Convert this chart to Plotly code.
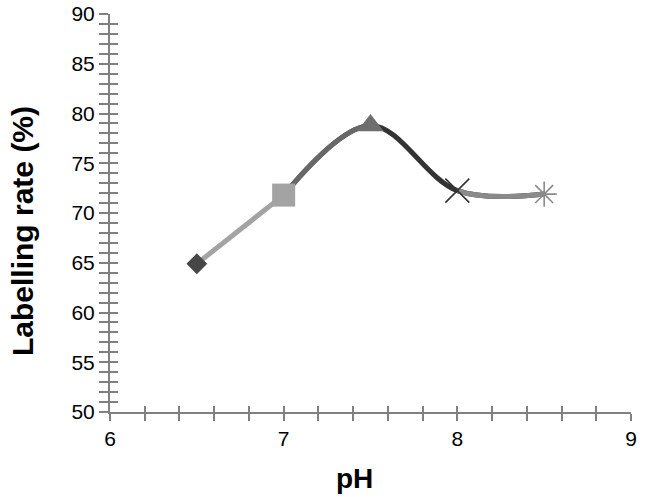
import plotly.graph_objects as go

# ---- data ----
ph = [6.5, 7.0, 7.5, 8.0, 8.5]
rate = [64.9, 71.8, 78.8, 72.25, 71.9]

marker_symbols = ["diamond", "square", "triangle-up", "x-thin", "asterisk"]
marker_colors = ["#474747", "#a3a3a3", "#6e6e6e", "#333333", "#8a8a8a"]
marker_sizes = [16, 23, 23, 24, 21]

x_tickvals = [6.0, 6.2, 6.4, 6.6, 6.8, 7.0, 7.2, 7.4, 7.6, 7.8,
              8.0, 8.2, 8.4, 8.6, 8.8, 9.0]
x_ticktext = ["6", "", "", "", "", "7", "", "", "", "",
              "8", "", "", "", "", "9"]
y_tickvals = list(range(50, 91))
y_ticktext = [str(v) if v % 5 == 0 else "" for v in y_tickvals]

x_range = [6, 9]
y_range = [50, 90]

x_title = "pH"
y_title = "Labelling rate (%)"

FONT = "Liberation Sans, Arial, sans-serif"
AX = "#808080"

fig = go.Figure()

# dark smoothed curve through pH 7 .. 8.5 (base layer)
fig.add_trace(go.Scatter(
    x=ph[1:], y=rate[1:], mode="lines",
    line=dict(color="#333333", width=5, shape="spline"),
    xaxis="x", yaxis="y", showlegend=False, hoverinfo="skip"))

# light straight segment pH 6.5 -> 7
fig.add_trace(go.Scatter(
    x=ph[0:2], y=rate[0:2], mode="lines",
    line=dict(color="#a3a3a3", width=5),
    xaxis="x", yaxis="y", showlegend=False, hoverinfo="skip"))

# medium grey part of the curve (pH 7 -> 7.5), clipped by its own axis domain
fig.add_trace(go.Scatter(
    x=ph[1:4], y=rate[1:4], mode="lines",
    line=dict(color="#686868", width=5, shape="spline"),
    xaxis="x2", yaxis="y", showlegend=False, hoverinfo="skip"))

# grey part of the curve (pH 8 -> 8.5)
fig.add_trace(go.Scatter(
    x=ph[2:], y=rate[2:], mode="lines",
    line=dict(color="#8a8a8a", width=5, shape="spline"),
    xaxis="x3", yaxis="y", showlegend=False, hoverinfo="skip"))

# markers, one trace per point style, on top-most subplot (x4, y2)
for xv, yv, sym, col, sz in zip(ph, rate, marker_symbols, marker_colors, marker_sizes):
    thin = sym in ("x-thin", "asterisk")
    fig.add_trace(go.Scatter(
        x=[xv], y=[yv], mode="markers",
        marker=dict(symbol=sym, color=col, size=sz,
                    line=dict(color=col, width=1.6 if thin else 0)),
        xaxis="x4", yaxis="y2", showlegend=False, cliponaxis=False))

common = dict(showgrid=False, zeroline=False)
tickfont = dict(size=21, family=FONT, color="#000")

fig.update_layout(
    width=646, height=497,
    margin=dict(l=110, r=15, t=14, b=85, autoexpand=False),
    paper_bgcolor="white", plot_bgcolor="rgba(0,0,0,0)",
    font=dict(family=FONT, color="#000000"),
    xaxis=dict(
        range=x_range, domain=[0, 1], anchor="y",
        tickmode="array", tickvals=x_tickvals, ticktext=x_ticktext,
        ticks="outside", ticklen=7, tickwidth=2, tickcolor=AX,
        showline=True, linecolor=AX, linewidth=2, automargin=False,
        tickfont=tickfont, ticklabeloverflow="allow",
        **common),
    yaxis=dict(
        range=y_range, domain=[0, 1], anchor="x",
        tickmode="array", tickvals=y_tickvals, ticktext=y_ticktext,
        ticks="outside", ticklen=9, tickwidth=2, tickcolor=AX,
        showline=True, linecolor=AX, linewidth=2, automargin=False,
        tickfont=tickfont, ticklabeloverflow="allow",
        **common),
    xaxis2=dict(range=[6, 7.5], domain=[0, 0.5], anchor="y", visible=False, **common),
    xaxis3=dict(range=[8, 9], domain=[2/3, 1], anchor="y", visible=False, **common),
    # inner halves of the crossing ticks
    xaxis4=dict(
        range=x_range, domain=[0, 1], anchor="y2", side="bottom",
        tickmode="array", tickvals=x_tickvals, ticktext=x_ticktext,
        showticklabels=False, ticks="inside", ticklen=6, tickwidth=2, tickcolor=AX,
        showline=False, automargin=False, **common),
    yaxis2=dict(
        range=y_range, domain=[0, 1], anchor="x4", side="left",
        tickmode="array", tickvals=y_tickvals, ticktext=y_ticktext,
        showticklabels=False, ticks="inside", ticklen=8, tickwidth=2, tickcolor=AX,
        showline=False, automargin=False, **common),
    annotations=[
        dict(text="<b>" + x_title + "</b>", xref="paper", yref="paper",
             x=(354 - 110) / 521, y=-(478 - 412) / 398,
             xanchor="center", yanchor="middle", showarrow=False,
             font=dict(size=28, family=FONT, color="#000")),
        dict(text="<b>" + y_title + "</b>", xref="paper", yref="paper",
             x=-(110 - 22) / 521, y=(412 - 231) / 398, textangle=-90,
             xanchor="center", yanchor="middle", showarrow=False,
             font=dict(size=30, family=FONT, color="#000")),
    ],
)

fig.write_html(
    "out.html",
    config={"displayModeBar": False},
    post_script="document.body.style.margin='0';document.body.style.padding='0';",
)
